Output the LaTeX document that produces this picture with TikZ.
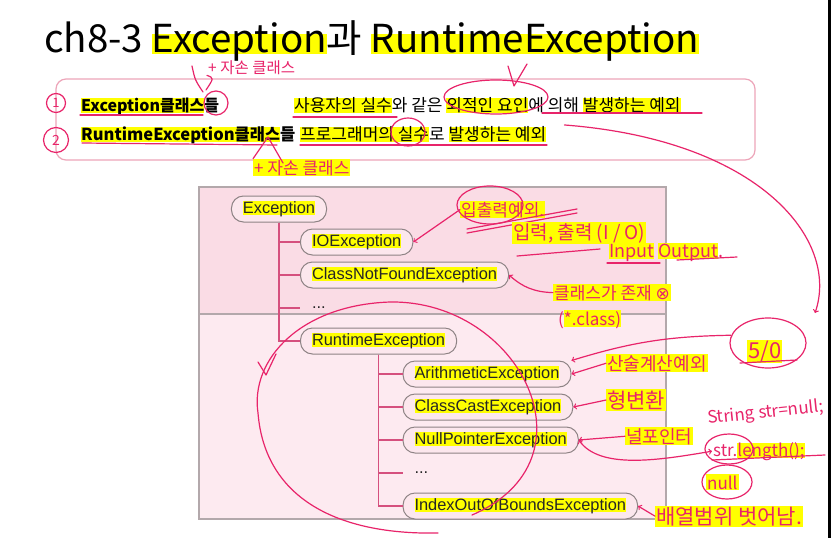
\documentclass[tikz,border=0pt]{standalone}
\usepackage{fontspec}
\setmainfont{Noto Sans CJK KR}
\newfontfamily\arialfont{Liberation Sans}
\newfontfamily\symbolfont{DejaVu Sans}
\usetikzlibrary{positioning, arrows}

\definecolor{hlyellow}{HTML}{FFFF00}
\definecolor{penred}{HTML}{E8246A}
\definecolor{treered}{HTML}{D5507E}
\definecolor{nodegray}{HTML}{8E8385}
\definecolor{toppink}{HTML}{FADCE5}
\definecolor{botpink}{HTML}{FDEAF0}
\definecolor{nodepink}{HTML}{FCE7ED}
\definecolor{boxpink}{HTML}{EDA5B9}
\definecolor{boxgray}{HTML}{B3A8AB}

% yellow marker behind a word
\newcommand\mk[2][15pt]{\setbox0\hbox{#2}\rlap{\color{hlyellow}\rule[-2pt]{\wd0}{#1}}\box0\relax}

\begin{document}
\begin{tikzpicture}[x=1pt, y=-1pt,
    exnode/.style={draw=nodegray, fill=nodepink, line width=1pt, rounded corners=12pt, minimum height=26pt, inner xsep=11.5pt, inner ysep=0pt, font=\arialfont\fontsize{16.4}{18}\selectfont, text=black!85},
    dotnode/.style={exnode, draw=none, fill=none},
    treeline/.style={draw=treered, line width=1.6pt},
    pen/.style={draw=penred, line width=1.2pt, line cap=round, line join=round},
    memo/.style={text=penred, inner sep=1pt, anchor=base west, font=\fontsize{17}{19}\selectfont},
    memohl/.style={memo, fill=hlyellow}]

  \fill[white] (0,0) rectangle (840,538);
  \useasboundingbox (0,0) rectangle (840,538);
  \fill[black] (828,0) rectangle (831,538);

  % title
  \node[anchor=base west, inner sep=0pt, font=\fontsize{38.5}{42}\selectfont] (title) at (44,52) {ch8-3 \mk[20pt]{Exception}과 \mk[20pt]{RuntimeException}};

  % two kinds of exceptions
  \draw[boxpink, line width=1.2pt, rounded corners=10pt] (56,79) rectangle (755,160);
  \node[anchor=base west, inner sep=0pt, font=\bfseries\fontsize{16}{18}\selectfont] (row1a) at (81,111) {\mk{Exception클래스}들};
  \node[anchor=base west, inner sep=0pt, font=\fontsize{17}{19}\selectfont] (row1b) at (294,111) {\mk{사용자의 실수}와 같은 \mk{외적인 요인}에 의해 \mk{발생하는 예외}};
  \node[anchor=base west, inner sep=0pt, font=\bfseries\fontsize{16.5}{18}\selectfont] (row2a) at (81,140) {\mk{RuntimeException클래스}들};
  \node[anchor=base west, inner sep=0pt, font=\fontsize{17}{19}\selectfont] (row2b) at (300,140) {\mk{프로그래머의 실수}로 \mk{발생하는 예외}};

  % class tree
  \filldraw[fill=toppink, draw=boxgray, line width=1.2pt] (199,187) rectangle (666,314);
  \filldraw[fill=botpink, draw=boxgray, line width=1.2pt] (199,314) rectangle (666,519);

  \node[exnode] (exc) at (279,209) {\mk[14pt]{Exception}};
  \node[exnode, below right=6pt and 21pt of exc.south] (io) {\mk[14pt]{IOException}};
  \node[exnode, below=6pt of io.south west, anchor=north west] (cnf) {\mk[14pt]{ClassNotFoundException}};
  \node[dotnode, below=6pt of cnf.south west, anchor=north west] (dots1) {...};
  \node[exnode, below=6pt of dots1.south west, anchor=north west] (rt) {\mk[14pt]{RuntimeException}};
  \node[exnode, below right=6pt and 24pt of rt.south] (arith) {\mk[14pt]{ArithmeticException}};
  \node[exnode, below=6pt of arith.south west, anchor=north west] (cast) {\mk[14pt]{ClassCastException}};
  \node[exnode, below=6pt of cast.south west, anchor=north west] (npe) {\mk[14pt]{NullPointerException}};
  \node[dotnode, below=6pt of npe.south west, anchor=north west] (dots2) {...};
  \node[exnode, below=6pt of dots2.south west, anchor=north west] (idx) {\mk[14pt]{IndexOutOfBoundsException}};

  \foreach \c in {io,cnf,dots1,rt}
    \draw[treeline] (exc.south) |- (\c.west);
  \foreach \c in {arith,cast,npe,dots2,idx}
    \draw[treeline] (rt.south) |- (\c.west);

  % pen notes
  \node[pen, draw, circle, text=penred, inner sep=1pt, minimum size=19pt, font=\fontsize{13}{14}\selectfont] (one) at (56,103) {1};
  \node[pen, draw, circle, text=penred, inner sep=1pt, minimum size=25pt, font=\fontsize{14}{15}\selectfont] (two) at (56,140) {2};
  \draw[pen] (216,103) circle [radius=12];
  \draw[pen] (408,132) ellipse [x radius=17, y radius=14];
  \draw[pen] (496,97) ellipse [x radius=52, y radius=17];
  \draw[pen] (508,66) -- (514,86) -- (527,64);
  \draw[pen] (80,115) -- (203,115);
  \draw[pen] (293,117) -- (397,117);
  \draw[pen] (542,113) -- (702,113);
  \draw[pen] (82,143) -- (277,145);
  \draw[pen] (300,145) -- (547,145);

  \node[memo, font=\fontsize{15.5}{17}\selectfont] (sub1) at (207,73) {+ 자손 클래스};
  \draw[pen] (192,66) .. controls (195,80) .. (203,92);
  \draw[pen] (206,90) .. controls (214,78) .. (sub1.south west);
  \node[memohl] (sub2) at (253,174) {+ 자손 클래스};
  \draw[pen] (sub2.north west) -- (268,137) -- (283,163);

  \node[memohl] (mio1) at (460,216) {입출력예외.};
  \draw[pen] (490,205) ellipse [x radius=33, y radius=19];
  \draw[pen, ->] (mio1.west) -- (io.east);
  \draw[pen] (467,229) -- (577,209);
  \draw[pen] (467,233) -- (577,213);
  \node[memohl, font=\fontsize{19}{21}\selectfont] (mio2) at (512,239) {입력, 출력 (I / O)};
  \draw[pen] (517,256) -- (600,249);
  \node[memo, font=\fontsize{18}{20}\selectfont] (mio3) at (608,257) {\mk[16pt]{Input} \mk[16pt]{Output}.};
  \draw[pen] (607,263) -- (660,263);
  \draw[pen] (677,260) -- (737,257);

  \node[memohl] (mcnf1) at (553,299) {클래스가 존재 {\symbolfont ⊗}};
  \draw[pen, ->] (mcnf1.west) to[bend left=20] (cnf.east);
  \node[memo] (mcnf2) at (557,325) {(\mk[17pt]{*.class)}};

  \draw[pen, ->] (row2b.east) ++(18,-9) .. controls (760,140) and (840,240) .. (815,313);
  \node[memohl, font=\fontsize{22}{24}\selectfont] (m50) at (747,358) {5/0};
  \draw[pen] (768,343) ellipse [x radius=38, y radius=25];
  \draw[pen] (740,363) -- (797,360);
  \draw[pen, ->] (m50.west) ++(-16,-16) to[bend right=8] (arith.north east);
  \node[memohl, font=\fontsize{18}{20}\selectfont] (marith) at (606,370) {산술계산예외};
  \draw[pen, ->] (marith.west) -- (arith.east);

  \node[memohl, font=\fontsize{21}{23}\selectfont] (mcast) at (606,408) {형변환};
  \draw[pen, ->] (mcast.west) -- (cast.east);

  \node[memohl, font=\fontsize{18}{20}\selectfont] (mnpe) at (625,443) {널포인터};
  \draw[pen, ->] (mnpe.west) -- (npe.east);
  \node[memo, rotate=6] (mstr1) at (707,424) {String str=null;};
  \node[memo] (mstr2) at (712,456) {str.\mk[15pt]{length();}};
  \draw[pen] (729,449) ellipse [x radius=24, y radius=15];
  \draw[pen] (712,460) -- (825,455);
  \draw[pen, <->] (npe.east) .. controls (600,470) and (660,460) .. (mstr2.west);
  \node[memohl] (mnull) at (706,489) {null};
  \draw[pen] (727,482) ellipse [x radius=25, y radius=17];

  \node[memohl, font=\fontsize{21}{23}\selectfont] (midx) at (655,524) {배열범위 벗어남.};
  \draw[pen, ->] (midx.west) -- (idx.east);

  % circle round the runtime family
  \draw[pen] (472,515) .. controls (600,460) and (520,300) .. (390,302) .. controls (300,305) and (250,360) .. (258,413) .. controls (265,500) and (340,535) .. (438,533);
  \draw[pen] (258,362) -- (266,375) -- (276,354);
\end{tikzpicture}
\end{document}
